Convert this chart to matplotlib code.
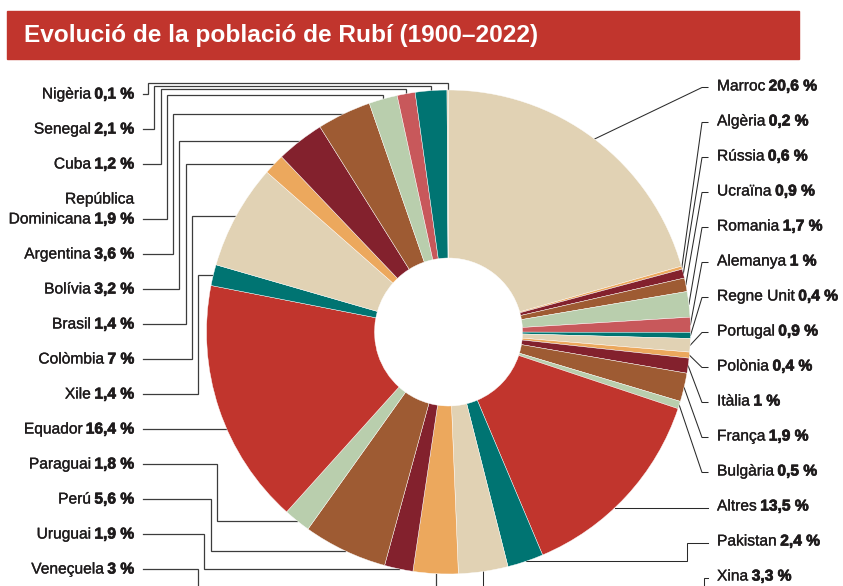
import numpy as np
import matplotlib.pyplot as plt
import matplotlib.patheffects as pe
from matplotlib.patches import Rectangle

W, H = 843, 586

# slices clockwise from 12 o'clock
countries = ['Marroc', 'Algèria', 'Rússia', 'Ucraïna', 'Romania', 'Alemanya', 'Regne Unit',
             'Portugal', 'Polònia', 'Itàlia', 'França', 'Bulgària', 'Altres', 'Pakistan', 'Xina',
             'Veneçuela', 'Uruguai', 'Perú', 'Paraguai', 'Equador', 'Xile', 'Colòmbia', 'Brasil',
             'Bolívia', 'Argentina', 'República\nDominicana', 'Cuba', 'Senegal', 'Nigèria']
shares = [20.6, 0.2, 0.6, 0.9, 1.7, 1, 0.4,
          0.9, 0.4, 1, 1.9, 0.5, 13.5, 2.4, 3.3,
          3, 1.9, 5.6, 1.8, 16.4, 1.4, 7, 1.4,
          3.2, 3.6, 1.9, 1.2, 2.1, 0.1]
title = 'Evolució de la població de Rubí (1900–2022)'

palette = {'beige': '#e1d2b4', 'orange': '#eca85d', 'wine': '#83212d', 'brown': '#9e5b33',
           'green': '#b9cead', 'pink': '#c8585b', 'teal': '#007472', 'red': '#c1352d'}
color_keys = ['beige', 'orange', 'wine', 'brown', 'green', 'pink', 'teal',
              'beige', 'orange', 'wine', 'brown', 'green', 'red', 'teal', 'beige',
              'orange', 'wine', 'brown', 'green', 'red', 'teal', 'beige', 'orange',
              'wine', 'brown', 'green', 'pink', 'teal', 'beige']
slice_colors = [palette[k] for k in color_keys]

ink = '#1e1b1c'
font = dict(family=['Liberation Sans', 'DejaVu Sans'], fontsize=11.2, color=ink)
name_fx = [pe.withStroke(linewidth=0.2, foreground=ink)]
value_fx = [pe.withStroke(linewidth=0.5, foreground=ink)]
line_kw = dict(color='#3c3c3c', linewidth=0.9, zorder=0.5, solid_joinstyle='miter')

fig = plt.figure(figsize=(W / 100, H / 100), dpi=100)
ax = fig.add_axes([0, 0, 1, 1])
renderer = fig.canvas.get_renderer()

# ring geometry (pixel coords, y down)
cx, cy, r, r_in = 448.5, 332, 242, 74

ax.pie(shares, colors=slice_colors, startangle=-90, counterclock=True,
       center=(cx, cy), radius=r, frame=True,
       wedgeprops=dict(width=r - r_in, edgecolor='white', linewidth=0.3))
ax.set_xlim(0, W)
ax.set_ylim(H, 0)
ax.axis('off')

# title bar
ax.add_patch(Rectangle((7, 11), 792, 48, color='#c1352d', zorder=3))
ax.text(24, 35.5, title, color='white', fontsize=17.6, fontweight='bold',
        family=['Liberation Sans', 'DejaVu Sans'], va='center', ha='left', zorder=4)

total = sum(shares)
cum = np.cumsum(shares)
mid = 2 * np.pi * (cum - np.array(shares) / 2) / total
anchor_x = cx + r * np.sin(mid)
anchor_y = cy - r * np.cos(mid)


def fmt(v):
    return f'{v:g}'.replace('.', ',') + ' %'


def edge_x(y, side):
    return cx + side * np.sqrt(r ** 2 - (y - cy) ** 2)


def left_label(name, value, y):
    lines = name.split('\n')
    v = ax.text(134, y + 5, value, ha='right', va='baseline', fontweight='bold',
                path_effects=value_fx, **font)
    w = v.get_window_extent(renderer).width
    ax.text(134 - w - 3.5, y + 5, lines[-1], ha='right', va='baseline',
            path_effects=name_fx, **font)
    for i, line in enumerate(reversed(lines[:-1])):
        ax.text(134, y + 5 - 20 * (i + 1), line, ha='right', va='baseline',
                path_effects=name_fx, **font)


def right_label(name, value, y):
    n = ax.text(717, y + 5, name, ha='left', va='baseline', path_effects=name_fx, **font)
    w = n.get_window_extent(renderer).width
    ax.text(717 + w + 3.5, y + 5, value, ha='left', va='baseline', fontweight='bold',
            path_effects=value_fx, **font)


# left column, top to bottom: Nigèria ... Veneçuela
left_idx = list(range(len(shares) - 1, 14, -1))
left_y = []
y = 93.5
for i in left_idx:
    if i == 25:
        y += 20  # two-line label
    left_y.append(y)
    y += 35

top_levels = [83, 86, 89, 95]
for k, (i, ly) in enumerate(zip(left_idx, left_y)):
    left_label(countries[i], fmt(shares[i]), ly)
    ax_, ay_ = anchor_x[i], anchor_y[i]
    if k < 9:
        ex = 148 + 6.25 * k
        lvl = top_levels[k] if k < 4 else ay_
        xs = [143, ex, ex, ax_, ax_]
        ys = [ly, ly, lvl, lvl, ay_]
    elif k == 9:
        xs = [143, edge_x(ly, -1)]
        ys = [ly, ly]
    elif k < 13:
        ex = 217 - 6.4 * (k - 10)
        xs = [143, ex, ex, ax_]
        ys = [ly, ly, ay_, ay_]
    else:
        xs = [143, 198, 198, ax_, ax_]
        ys = [ly, ly, 600, 600, ay_]
    ax.plot(xs, ys, **line_kw)

# right column, top to bottom: Marroc ... Xina
right_line = dict(line_kw, linewidth=0.75, color='#2a2a2a')
for j in range(15):
    ly = 85.5 + 35 * j
    right_label(countries[j], fmt(shares[j]), ly)
    ty = ly + 2
    ax_, ay_ = anchor_x[j], anchor_y[j]
    if j < 12:
        xs = [708, 702, ax_]
        ys = [ty, ty, ay_]
    elif j == 12:
        xs = [708, edge_x(ty, 1)]
        ys = [ty, ty]
    elif j == 13:
        xs = [708, 687, 687, ax_]
        ys = [ty, ty, ay_, ay_]
    else:
        xs = [708, 704, 704, ax_, ax_]
        ys = [ty, ty, 600, 600, ay_]
    ax.plot(xs, ys, **right_line)

fig.savefig('out.png', dpi=100)
